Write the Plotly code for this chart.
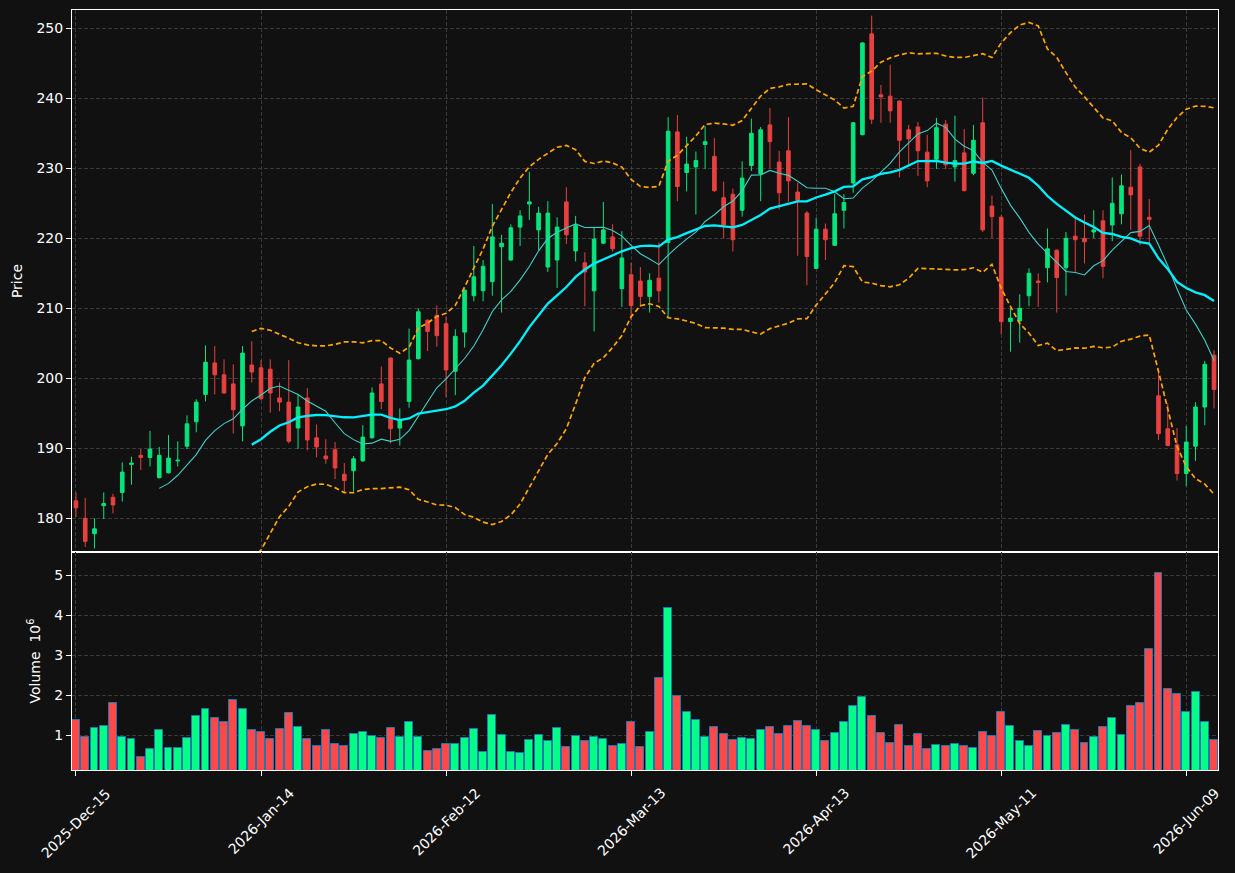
import plotly.graph_objects as go
from plotly.subplots import make_subplots
import pandas as pd

# ---------------- data ----------------
OPEN = [182.5, 180.0, 177.8, 181.8, 183.0, 183.7, 187.7, 189.0, 188.7, 185.8,
        186.5, 188.2, 190.3, 193.8, 197.7, 202.2, 200.5, 199.2, 193.2, 201.9,
        201.5, 201.3, 197.2, 196.6, 192.9, 197.2, 191.5, 188.9, 189.8, 186.3,
        186.8, 188.2, 191.5, 199.2, 202.9, 192.9, 196.7, 202.8, 208.3, 209.0,
        207.8, 201.0, 206.6, 211.8, 212.5, 213.8, 218.8, 216.9, 221.6, 224.9,
        221.2, 215.9, 216.9, 225.2, 218.2, 216.5, 212.5, 219.3, 220.2, 212.8,
        214.8, 213.9, 211.7, 214.3, 219.4, 235.2, 229.4, 230.2, 233.4, 231.7,
        225.8, 226.3, 224.0, 230.4, 229.2, 236.2, 230.9, 232.5, 226.6, 223.6,
        215.7, 221.3, 219.0, 224.0, 227.9, 234.8, 249.2, 240.5, 240.3, 239.6,
        235.5, 235.9, 232.3, 231.3, 236.3, 230.2, 232.2, 229.3, 236.5, 224.6,
        223.0, 208.1, 208.2, 211.8, 213.9, 215.8, 218.3, 215.8, 220.3, 220.0,
        220.9, 222.5, 221.9, 223.5, 227.3, 230.2, 223.0, 197.5, 192.8, 190.5,
        186.4, 190.3, 195.9, 203.3]
HIGH = [183.7, 182.9, 180.0, 183.7, 183.5, 188.0, 188.8, 189.9, 192.5, 190.2,
        191.9, 191.0, 194.7, 197.0, 204.7, 204.6, 202.7, 202.0, 204.6, 205.3,
        202.6, 202.7, 199.4, 202.6, 197.7, 198.6, 193.4, 191.3, 190.9, 187.9,
        188.9, 193.3, 198.7, 201.7, 203.0, 195.7, 207.1, 210.0, 208.4, 210.4,
        208.8, 207.0, 212.7, 218.9, 216.9, 224.9, 220.5, 222.0, 224.0, 229.5,
        224.5, 225.3, 223.0, 227.3, 223.2, 218.0, 221.6, 225.2, 222.0, 221.0,
        216.5, 215.9, 215.0, 219.4, 237.3, 237.6, 234.5, 232.4, 236.0, 234.3,
        228.1, 227.1, 231.0, 237.1, 235.9, 238.6, 232.5, 237.3, 227.9, 223.9,
        222.9, 222.1, 226.3, 226.3, 236.6, 248.0, 251.8, 241.9, 244.8, 239.7,
        236.2, 236.6, 234.8, 237.2, 236.9, 237.5, 235.6, 236.2, 240.1, 226.1,
        223.3, 210.0, 212.0, 215.7, 215.0, 221.4, 218.4, 220.9, 222.9, 223.4,
        224.0, 224.0, 228.7, 229.1, 232.6, 230.6, 225.6, 200.9, 196.4, 192.9,
        193.2, 196.6, 202.5, 204.0]
LOW = [180.2, 175.9, 175.7, 179.9, 180.7, 182.4, 184.8, 186.9, 187.4, 185.7,
       186.4, 187.4, 189.9, 192.3, 196.7, 197.7, 197.8, 192.1, 191.0, 199.4,
       196.9, 195.1, 195.3, 190.7, 189.9, 189.7, 188.7, 187.8, 185.6, 183.7,
       183.8, 188.1, 191.4, 195.6, 190.7, 190.4, 195.8, 202.7, 203.9, 204.5,
       197.3, 197.6, 204.4, 211.0, 211.0, 211.8, 209.4, 216.8, 218.9, 222.6,
       218.3, 215.2, 212.9, 219.2, 216.7, 210.3, 206.7, 219.2, 218.1, 210.2,
       208.3, 210.2, 209.4, 210.8, 208.7, 225.3, 226.7, 223.4, 229.9, 226.6,
       220.0, 218.1, 223.1, 229.6, 225.3, 230.0, 224.1, 225.2, 217.5, 213.3,
       215.6, 216.9, 218.9, 221.4, 226.5, 234.7, 236.3, 236.5, 236.5, 228.7,
       230.5, 228.9, 227.3, 229.9, 229.9, 228.1, 226.7, 229.0, 220.9, 220.0,
       206.3, 203.8, 205.1, 210.3, 210.2, 213.7, 209.4, 211.8, 215.2, 216.4,
       220.0, 214.3, 219.6, 222.0, 221.2, 219.0, 219.4, 191.2, 190.3, 185.4,
       184.6, 188.2, 193.3, 195.7]
CLOSE = [181.5, 176.7, 178.5, 182.1, 181.9, 186.6, 187.9, 188.7, 189.9, 189.0,
         188.6, 188.3, 193.5, 196.6, 202.3, 200.5, 197.9, 195.5, 203.6, 200.9,
         197.1, 197.9, 196.6, 191.0, 195.9, 191.2, 190.2, 188.5, 187.2, 185.4,
         188.5, 191.6, 197.9, 196.7, 192.8, 194.1, 202.6, 209.5, 206.7, 206.1,
         201.2, 206.0, 212.6, 214.5, 216.0, 220.2, 219.3, 221.5, 223.2, 225.2,
         223.6, 223.6, 221.6, 220.5, 221.8, 215.2, 219.9, 221.2, 218.5, 217.2,
         210.4, 211.7, 214.0, 212.5, 235.3, 227.4, 230.6, 231.1, 233.8, 226.8,
         221.9, 219.8, 228.6, 235.0, 235.5, 233.8, 226.5, 228.2, 225.4, 217.4,
         221.3, 219.8, 223.5, 225.1, 236.5, 247.9, 237.0, 240.2, 238.2, 234.0,
         234.2, 232.5, 228.2, 235.8, 230.5, 231.1, 226.8, 234.0, 221.2, 223.1,
         208.1, 208.6, 210.0, 215.0, 213.7, 218.5, 214.4, 220.0, 219.8, 219.5,
         221.2, 216.0, 225.0, 227.5, 226.2, 220.3, 222.7, 192.1, 190.4, 186.4,
         190.9, 195.9, 202.0, 198.4]
VOLUME_M = [1.375, 0.95, 1.175, 1.225, 1.80, 0.95, 0.90, 0.45, 0.65, 1.125,
            0.675, 0.675, 0.925, 1.475, 1.65, 1.425, 1.325, 1.875, 1.65, 1.125,
            1.075, 0.90, 1.15, 1.55, 1.20, 0.90, 0.725, 1.125, 0.775, 0.725,
            1.025, 1.075, 0.975, 0.925, 1.175, 0.95, 1.325, 0.95, 0.60, 0.65,
            0.775, 0.775, 0.925, 1.15, 0.575, 1.50, 1.0, 0.575, 0.55, 0.875,
            1.0, 0.85, 1.175, 0.70, 0.975, 0.85, 0.95, 0.90, 0.725, 0.775,
            1.325, 0.70, 1.075, 2.425, 4.175, 1.975, 1.575, 1.375, 0.95, 1.20,
            1.025, 0.875, 0.925, 0.90, 1.125, 1.20, 1.025, 1.225, 1.35, 1.225,
            1.125, 0.85, 1.05, 1.325, 1.725, 1.95, 1.475, 1.05, 0.80, 1.25,
            0.725, 1.025, 0.65, 0.75, 0.725, 0.775, 0.725, 0.675, 1.075, 0.975,
            1.575, 1.225, 0.85, 0.725, 1.10, 0.975, 1.05, 1.25, 1.125, 0.80,
            0.95, 1.20, 1.425, 1.0, 1.725, 1.80, 3.15, 5.05, 2.15, 2.025,
            1.575, 2.075, 1.325, 0.875]
TICK_POS = [0, 20, 40, 60, 80, 100, 120]
TICK_LABELS = ["2025-Dec-15", "2026-Jan-14", "2026-Feb-12", "2026-Mar-13",
               "2026-Apr-13", "2026-May-11", "2026-Jun-09"]
PRICE_TICKS = [180, 190, 200, 210, 220, 230, 240, 250]
VOLUME_TICKS = [1, 2, 3, 4, 5]
MA_FAST, MA_SLOW, BB_K = 10, 20, 2

# ---------------- derived indicator lines ----------------
x = list(range(len(CLOSE)))
close_s = pd.Series(CLOSE)
ma_fast = close_s.rolling(MA_FAST).mean()
ma_slow = close_s.rolling(MA_SLOW).mean()
sd = close_s.rolling(MA_SLOW).std()
bb_up = ma_slow + BB_K * sd
bb_lo = ma_slow - BB_K * sd

UP_C, DN_C = "#05E57C", "#E8413F"
VUP_C, VDN_C = "#00FF84", "#FF4848"
vol_colors = [VUP_C if c >= o else VDN_C for o, c in zip(OPEN, CLOSE)]

BG = "#111111"
GRID = "#3a3a3a"

fig = make_subplots(rows=2, cols=1, shared_xaxes=True, vertical_spacing=0,
                    row_heights=[542, 218])

fig.add_trace(go.Candlestick(
    x=x, open=OPEN, high=HIGH, low=LOW, close=CLOSE,
    increasing=dict(line=dict(color=UP_C, width=1), fillcolor=UP_C),
    decreasing=dict(line=dict(color=DN_C, width=1), fillcolor=DN_C),
    whiskerwidth=0, showlegend=False), row=1, col=1)

fig.add_trace(go.Scatter(x=x, y=ma_fast, mode="lines",
                         line=dict(color="#3FCFC8", width=1.1)), row=1, col=1)
fig.add_trace(go.Scatter(x=x, y=ma_slow, mode="lines",
                         line=dict(color="#00F0FF", width=2.3)), row=1, col=1)
fig.add_trace(go.Scatter(x=x, y=bb_up, mode="lines",
                         line=dict(color="#FFA500", width=1.7, dash="5px,3px")), row=1, col=1)
fig.add_trace(go.Scatter(x=x, y=bb_lo, mode="lines",
                         line=dict(color="#FFA500", width=1.7, dash="5px,3px")), row=1, col=1)

fig.add_trace(go.Bar(x=x, y=VOLUME_M, width=0.86,
                     marker=dict(color=vol_colors, line=dict(color="#1f77b4", width=1))),
              row=2, col=1)

fig.update_layout(
    width=1235, height=873,
    margin=dict(l=72, r=17, t=10, b=103),
    paper_bgcolor=BG, plot_bgcolor=BG,
    showlegend=False,
    font=dict(family="DejaVu Sans", size=14, color="white"),
    boxgap=0.44, bargap=0,
)

xcommon = dict(range=[-0.43, 123.43], tickmode="array", tickvals=TICK_POS,
               showgrid=True, gridcolor=GRID, griddash="4px,2px", gridwidth=1,
               showline=True, linecolor="white", linewidth=1, mirror=True,
               zeroline=False, automargin=False, rangeslider=dict(visible=False),
               showticklabels=False)
fig.update_xaxes(**xcommon, ticks="", row=1, col=1)
fig.update_xaxes(**xcommon, ticks="outside", ticklen=5, tickcolor="white",
                 row=2, col=1)

# rotated date labels, centred under their ticks (matplotlib style)
for pos, lab in zip(TICK_POS, TICK_LABELS):
    fig.add_annotation(x=pos, y=0, xref="x2", yref="paper", text=lab,
                       textangle=-45, showarrow=False, xanchor="center",
                       yanchor="top", yshift=-12,
                       font=dict(size=14, color="white", family="DejaVu Sans"))

ycommon = dict(showgrid=True, gridcolor=GRID, griddash="4px,2px", gridwidth=1,
               showline=True, linecolor="white", linewidth=1, mirror=True,
               zeroline=False, automargin=False, ticks="outside", ticklen=5,
               tickcolor="white", tickfont=dict(size=14, color="white"))
fig.update_yaxes(**ycommon, range=[175.19, 252.61], tickmode="array",
                 tickvals=PRICE_TICKS, title=dict(text="Price", standoff=10,
                 font=dict(size=14, color="white")), row=1, col=1)
fig.update_yaxes(**ycommon, range=[0.1325, 5.58], tickmode="array",
                 tickvals=VOLUME_TICKS,
                 title=dict(text="Volume\u00a0 10<sup>6</sup>", standoff=10,
                            font=dict(size=14, color="white")), row=2, col=1)

fig.write_html("out.html")
